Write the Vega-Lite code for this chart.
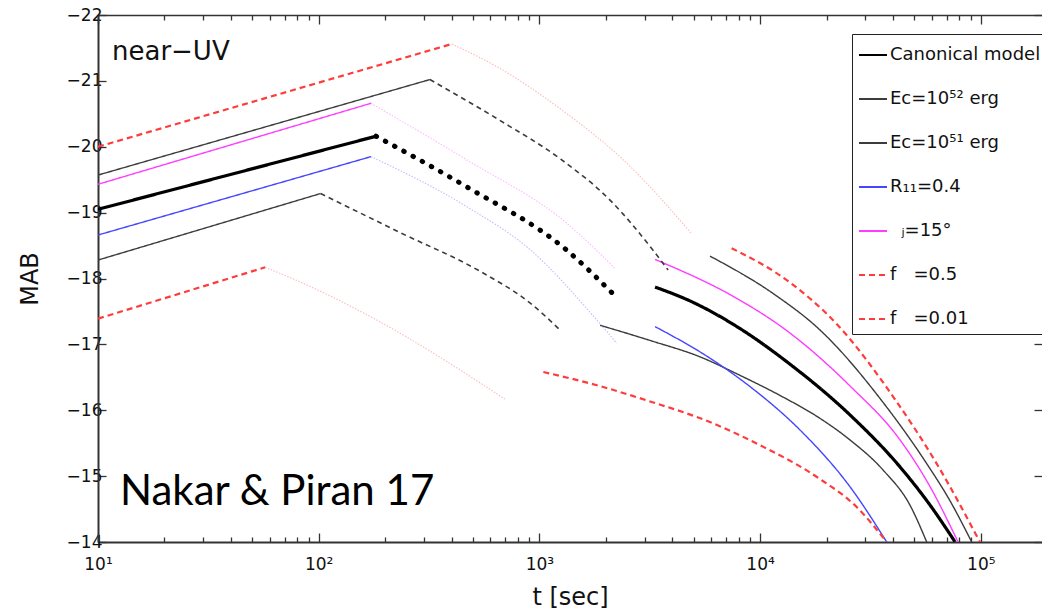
{
  "$schema": "https://vega.github.io/schema/vega-lite/v6.json",
  "width": 944,
  "height": 527,
  "autosize": {"type": "none"},
  "padding": {"left": 98, "top": 15, "right": 0, "bottom": 71},
  "background": "white",
  "data": {
    "values": [
      {"model": "Canonical model", "part": "rise", "t": 10, "M": -19.05},
      {"model": "Canonical model", "part": "rise", "t": 182, "M": -20.16},
      {"model": "Canonical model", "part": "mid", "t": 182, "M": -20.16},
      {"model": "Canonical model", "part": "mid", "t": 469, "M": -19.39},
      {"model": "Canonical model", "part": "mid", "t": 1330, "M": -18.43},
      {"model": "Canonical model", "part": "mid", "t": 2138, "M": -17.78},
      {"model": "Canonical model", "part": "late", "t": 3342, "M": -17.87},
      {"model": "Canonical model", "part": "late", "t": 4810, "M": -17.66},
      {"model": "Canonical model", "part": "late", "t": 8110, "M": -17.24},
      {"model": "Canonical model", "part": "late", "t": 13650, "M": -16.70},
      {"model": "Canonical model", "part": "late", "t": 25530, "M": -15.93},
      {"model": "Canonical model", "part": "late", "t": 43050, "M": -15.14},
      {"model": "Canonical model", "part": "late", "t": 58900, "M": -14.56},
      {"model": "Canonical model", "part": "late", "t": 76500, "M": -14.0},

      {"model": "Ec=10⁵² erg", "part": "rise", "t": 10, "M": -19.57},
      {"model": "Ec=10⁵² erg", "part": "rise", "t": 319, "M": -21.02},
      {"model": "Ec=10⁵² erg", "part": "mid", "t": 319, "M": -21.02},
      {"model": "Ec=10⁵² erg", "part": "mid", "t": 662, "M": -20.40},
      {"model": "Ec=10⁵² erg", "part": "mid", "t": 1239, "M": -19.82},
      {"model": "Ec=10⁵² erg", "part": "mid", "t": 2089, "M": -19.19},
      {"model": "Ec=10⁵² erg", "part": "mid", "t": 3273, "M": -18.43},
      {"model": "Ec=10⁵² erg", "part": "mid", "t": 3828, "M": -18.13},
      {"model": "Ec=10⁵² erg", "part": "late", "t": 5930, "M": -18.34},
      {"model": "Ec=10⁵² erg", "part": "late", "t": 11480, "M": -17.77},
      {"model": "Ec=10⁵² erg", "part": "late", "t": 18660, "M": -17.22},
      {"model": "Ec=10⁵² erg", "part": "late", "t": 36060, "M": -16.12},
      {"model": "Ec=10⁵² erg", "part": "late", "t": 56880, "M": -15.19},
      {"model": "Ec=10⁵² erg", "part": "late", "t": 72400, "M": -14.63},
      {"model": "Ec=10⁵² erg", "part": "late", "t": 90950, "M": -14.0},

      {"model": "Ec=10⁵¹ erg", "part": "rise", "t": 10, "M": -18.28},
      {"model": "Ec=10⁵¹ erg", "part": "rise", "t": 102, "M": -19.29},
      {"model": "Ec=10⁵¹ erg", "part": "mid", "t": 102, "M": -19.29},
      {"model": "Ec=10⁵¹ erg", "part": "mid", "t": 233, "M": -18.70},
      {"model": "Ec=10⁵¹ erg", "part": "mid", "t": 538, "M": -18.11},
      {"model": "Ec=10⁵¹ erg", "part": "mid", "t": 906, "M": -17.63},
      {"model": "Ec=10⁵¹ erg", "part": "mid", "t": 1239, "M": -17.22},
      {"model": "Ec=10⁵¹ erg", "part": "late", "t": 1884, "M": -17.29},
      {"model": "Ec=10⁵¹ erg", "part": "late", "t": 3170, "M": -17.06},
      {"model": "Ec=10⁵¹ erg", "part": "late", "t": 5350, "M": -16.81},
      {"model": "Ec=10⁵¹ erg", "part": "late", "t": 8110, "M": -16.53},
      {"model": "Ec=10⁵¹ erg", "part": "late", "t": 12710, "M": -16.20},
      {"model": "Ec=10⁵¹ erg", "part": "late", "t": 18030, "M": -15.91},
      {"model": "Ec=10⁵¹ erg", "part": "late", "t": 25530, "M": -15.55},
      {"model": "Ec=10⁵¹ erg", "part": "late", "t": 36140, "M": -15.09},
      {"model": "Ec=10⁵¹ erg", "part": "late", "t": 47750, "M": -14.56},
      {"model": "Ec=10⁵¹ erg", "part": "late", "t": 56880, "M": -14.0},

      {"model": "R₁₁=0.4", "part": "rise", "t": 10, "M": -18.66},
      {"model": "R₁₁=0.4", "part": "rise", "t": 172.6, "M": -19.85},
      {"model": "R₁₁=0.4", "part": "mid", "t": 172.6, "M": -19.85},
      {"model": "R₁₁=0.4", "part": "mid", "t": 469, "M": -19.09},
      {"model": "R₁₁=0.4", "part": "mid", "t": 906, "M": -18.44},
      {"model": "R₁₁=0.4", "part": "mid", "t": 1820, "M": -17.37},
      {"model": "R₁₁=0.4", "part": "mid", "t": 2239, "M": -17.02},
      {"model": "R₁₁=0.4", "part": "late", "t": 3342, "M": -17.27},
      {"model": "R₁₁=0.4", "part": "late", "t": 5930, "M": -16.79},
      {"model": "R₁₁=0.4", "part": "late", "t": 8995, "M": -16.36},
      {"model": "R₁₁=0.4", "part": "late", "t": 15170, "M": -15.70},
      {"model": "R₁₁=0.4", "part": "late", "t": 25530, "M": -14.84},
      {"model": "R₁₁=0.4", "part": "late", "t": 37480, "M": -14.0},

      {"model": "\u200b\u00a0\u00a0ⱼ=15°", "part": "rise", "t": 10, "M": -19.43},
      {"model": "\u200b\u00a0\u00a0ⱼ=15°", "part": "rise", "t": 172.6, "M": -20.66},
      {"model": "\u200b\u00a0\u00a0ⱼ=15°", "part": "mid", "t": 172.6, "M": -20.66},
      {"model": "\u200b\u00a0\u00a0ⱼ=15°", "part": "mid", "t": 469, "M": -19.80},
      {"model": "\u200b\u00a0\u00a0ⱼ=15°", "part": "mid", "t": 1330, "M": -18.84},
      {"model": "\u200b\u00a0\u00a0ⱼ=15°", "part": "mid", "t": 2204, "M": -18.15},
      {"model": "\u200b\u00a0\u00a0ⱼ=15°", "part": "late", "t": 3342, "M": -18.29},
      {"model": "\u200b\u00a0\u00a0ⱼ=15°", "part": "late", "t": 8110, "M": -17.67},
      {"model": "\u200b\u00a0\u00a0ⱼ=15°", "part": "late", "t": 12710, "M": -17.25},
      {"model": "\u200b\u00a0\u00a0ⱼ=15°", "part": "late", "t": 25530, "M": -16.37},
      {"model": "\u200b\u00a0\u00a0ⱼ=15°", "part": "late", "t": 43050, "M": -15.55},
      {"model": "\u200b\u00a0\u00a0ⱼ=15°", "part": "late", "t": 58900, "M": -14.84},
      {"model": "\u200b\u00a0\u00a0ⱼ=15°", "part": "late", "t": 78900, "M": -14.0},

      {"model": "f\u00a0\u00a0\u00a0=0.5", "part": "rise", "t": 10, "M": -20.0},
      {"model": "f\u00a0\u00a0\u00a0=0.5", "part": "rise", "t": 401, "M": -21.56},
      {"model": "f\u00a0\u00a0\u00a0=0.5", "part": "mid", "t": 401, "M": -21.56},
      {"model": "f\u00a0\u00a0\u00a0=0.5", "part": "mid", "t": 662, "M": -21.19},
      {"model": "f\u00a0\u00a0\u00a0=0.5", "part": "mid", "t": 1239, "M": -20.58},
      {"model": "f\u00a0\u00a0\u00a0=0.5", "part": "mid", "t": 2490, "M": -19.75},
      {"model": "f\u00a0\u00a0\u00a0=0.5", "part": "mid", "t": 4898, "M": -18.68},
      {"model": "f\u00a0\u00a0\u00a0=0.5", "part": "late", "t": 7430, "M": -18.46},
      {"model": "f\u00a0\u00a0\u00a0=0.5", "part": "late", "t": 13650, "M": -17.94},
      {"model": "f\u00a0\u00a0\u00a0=0.5", "part": "late", "t": 22230, "M": -17.31},
      {"model": "f\u00a0\u00a0\u00a0=0.5", "part": "late", "t": 40180, "M": -16.20},
      {"model": "f\u00a0\u00a0\u00a0=0.5", "part": "late", "t": 63100, "M": -15.19},
      {"model": "f\u00a0\u00a0\u00a0=0.5", "part": "late", "t": 99100, "M": -14.0},

      {"model": "f\u00a0\u00a0\u00a0=0.01", "part": "rise", "t": 10, "M": -17.39},
      {"model": "f\u00a0\u00a0\u00a0=0.01", "part": "rise", "t": 57.2, "M": -18.17},
      {"model": "f\u00a0\u00a0\u00a0=0.01", "part": "mid", "t": 57.2, "M": -18.17},
      {"model": "f\u00a0\u00a0\u00a0=0.01", "part": "mid", "t": 82.2, "M": -17.95},
      {"model": "f\u00a0\u00a0\u00a0=0.01", "part": "mid", "t": 183, "M": -17.37},
      {"model": "f\u00a0\u00a0\u00a0=0.01", "part": "mid", "t": 698, "M": -16.17},
      {"model": "f\u00a0\u00a0\u00a0=0.01", "part": "late", "t": 1042, "M": -16.58},
      {"model": "f\u00a0\u00a0\u00a0=0.01", "part": "late", "t": 1820, "M": -16.38},
      {"model": "f\u00a0\u00a0\u00a0=0.01", "part": "late", "t": 3063, "M": -16.15},
      {"model": "f\u00a0\u00a0\u00a0=0.01", "part": "late", "t": 6139, "M": -15.80},
      {"model": "f\u00a0\u00a0\u00a0=0.01", "part": "late", "t": 9990, "M": -15.47},
      {"model": "f\u00a0\u00a0\u00a0=0.01", "part": "late", "t": 18030, "M": -14.99},
      {"model": "f\u00a0\u00a0\u00a0=0.01", "part": "late", "t": 27410, "M": -14.53},
      {"model": "f\u00a0\u00a0\u00a0=0.01", "part": "late", "t": 37480, "M": -14.0}
    ]
  },
  "layer": [
    {
      "transform": [{"filter": "datum.part !== 'mid'"}],
      "mark": {"type": "line", "interpolate": "monotone", "clip": true},
      "encoding": {
        "x": {
          "field": "t", "type": "quantitative",
          "scale": {"type": "log", "domain": [10, 189400], "nice": false},
          "axis": {
            "orient": "bottom",
            "values": [10, 20, 30, 40, 50, 60, 70, 80, 90, 100, 200, 300, 400, 500, 600, 700, 800, 900, 1000, 2000, 3000, 4000, 5000, 6000, 7000, 8000, 9000, 10000, 20000, 30000, 40000, 50000, 60000, 70000, 80000, 90000, 100000],
            "labelExpr": "datum.value === 10 ? '10¹' : datum.value === 100 ? '10²' : datum.value === 1000 ? '10³' : datum.value === 10000 ? '10⁴' : datum.value === 100000 ? '10⁵' : ''",
            "tickSize": {"condition": {"test": "datum.value === 10 || datum.value === 100 || datum.value === 1000 || datum.value === 10000 || datum.value === 100000", "value": -9}, "value": -5},
            "labelPadding": 23,
            "labelFlush": false,
            "labelOverlap": false,
            "title": "t [sec]",
            "titleFontSize": 24,
            "titlePadding": 9
          }
        },
        "y": {
          "field": "M", "type": "quantitative",
          "scale": {"domain": [-22, -14], "reverse": true, "nice": false, "zero": false},
          "axis": {
            "orient": "left",
            "values": [-22, -21, -20, -19, -18, -17, -16, -15, -14],
            "tickSize": -8,
            "labelPadding": 4,
            "title": "MAB",
            "titleFontSize": 24,
            "titlePadding": 24
          }
        },
        "color": {
          "field": "model", "type": "nominal",
          "scale": {
            "domain": ["Canonical model", "Ec=10⁵² erg", "Ec=10⁵¹ erg", "R₁₁=0.4", "\u200b\u00a0\u00a0ⱼ=15°", "f\u00a0\u00a0\u00a0=0.5", "f\u00a0\u00a0\u00a0=0.01"],
            "range": ["#000000", "#3c3c3c", "#3c3c3c", "#4646ff", "#ff3cff", "#ff3c3c", "#ff3c3c"]
          },
          "legend": {
            "title": null,
            "orient": "none",
            "legendX": 754,
            "legendY": 19,
            "strokeColor": "#222",
            "fillColor": "white",
            "padding": 6,
            "rowPadding": 20,
            "symbolType": "stroke",
            "symbolSize": 784,
            "symbolStrokeWidth": 1.8,
            "labelFont": "DejaVu Sans",
            "labelFontSize": 18,
            "labelColor": "#111",
            "labelOffset": 2,
            "labelLimit": 400
          }
        },
        "strokeDash": {
          "field": "model", "type": "nominal",
          "scale": {
            "domain": ["Canonical model", "Ec=10⁵² erg", "Ec=10⁵¹ erg", "R₁₁=0.4", "\u200b\u00a0\u00a0ⱼ=15°", "f\u00a0\u00a0\u00a0=0.5", "f\u00a0\u00a0\u00a0=0.01"],
            "range": [[1, 0], [1, 0], [1, 0], [1, 0], [1, 0], [6, 4], [6, 4]]
          },
          "legend": {"title": null}
        },
        "strokeWidth": {
          "condition": [
            {"test": "datum.model === 'Canonical model'", "value": 3.2},
            {"test": "indexof(datum.model, 'f') === 0", "value": 2.2}
          ],
          "value": 1.4
        },
        "detail": {"field": "part"}
      }
    },
    {
      "transform": [{"filter": "datum.part === 'mid' && datum.model !== 'Canonical model' && indexof(datum.model, 'erg') < 0"}],
      "mark": {"type": "line", "interpolate": "monotone", "strokeDash": [1.5, 1.5], "strokeWidth": 1.1, "opacity": 0.35, "clip": true},
      "encoding": {
        "x": {"field": "t", "type": "quantitative", "axis": null},
        "y": {"field": "M", "type": "quantitative", "axis": null},
        "color": {"field": "model", "type": "nominal", "legend": null},
        "detail": {"field": "part"}
      }
    },
    {
      "transform": [{"filter": "datum.part === 'mid' && indexof(datum.model, 'erg') >= 0"}],
      "mark": {"type": "line", "interpolate": "monotone", "strokeDash": [5, 4], "strokeWidth": 1.6, "clip": true},
      "encoding": {
        "x": {"field": "t", "type": "quantitative", "axis": null},
        "y": {"field": "M", "type": "quantitative", "axis": null},
        "color": {"field": "model", "type": "nominal", "legend": null},
        "detail": {"field": "part"}
      }
    },
    {
      "transform": [{"filter": "datum.part === 'mid' && datum.model === 'Canonical model'"}],
      "mark": {"type": "line", "interpolate": "monotone", "strokeDash": [0.5, 10], "strokeCap": "round", "strokeWidth": 5, "clip": true},
      "encoding": {
        "x": {"field": "t", "type": "quantitative", "axis": null},
        "y": {"field": "M", "type": "quantitative", "axis": null},
        "color": {"field": "model", "type": "nominal", "legend": null},
        "detail": {"field": "part"}
      }
    },
    {
      "data": {"values": [{}]},
      "mark": {"type": "text", "text": "near−UV", "font": "DejaVu Sans", "fontSize": 26, "fontWeight": "normal", "align": "left", "baseline": "alphabetic", "color": "#111"},
      "encoding": {
        "x": {
          "datum": 11.57, "type": "quantitative",
          "axis": {
            "orient": "top",
            "values": [10, 20, 30, 40, 50, 60, 70, 80, 90, 100, 200, 300, 400, 500, 600, 700, 800, 900, 1000, 2000, 3000, 4000, 5000, 6000, 7000, 8000, 9000, 10000, 20000, 30000, 40000, 50000, 60000, 70000, 80000, 90000, 100000],
            "labels": false,
            "tickSize": {"condition": {"test": "datum.value === 10 || datum.value === 100 || datum.value === 1000 || datum.value === 10000 || datum.value === 100000", "value": -9}, "value": -5},
            "domainWidth": 1.5,
            "title": null
          }
        },
        "y": {
          "datum": -21.31, "type": "quantitative",
          "axis": {
            "orient": "right",
            "values": [-22, -21, -20, -19, -18, -17, -16, -15, -14],
            "labels": false,
            "domain": false,
            "tickSize": -8,
            "title": null
          }
        }
      }
    },
    {
      "data": {"values": [{}]},
      "mark": {"type": "text", "text": "Nakar & Piran 17", "font": "Lato", "fontSize": 42, "fontWeight": "normal", "align": "left", "baseline": "alphabetic", "color": "#000"},
      "encoding": {
        "x": {"datum": 12.58, "type": "quantitative", "axis": null},
        "y": {"datum": -14.56, "type": "quantitative", "axis": null}
      }
    }
  ],
  "resolve": {"axis": {"x": "independent", "y": "independent"}},
  "config": {
    "view": {"stroke": null},
    "font": "DejaVu Sans",
    "axis": {
      "grid": false,
      "domainColor": "#333",
      "domainWidth": 2,
      "tickColor": "#333",
      "tickWidth": 1.3,
      "labelFont": "DejaVu Sans",
      "labelFontSize": 17,
      "labelColor": "#111",
      "titleFont": "DejaVu Sans",
      "titleFontWeight": "normal",
      "titleColor": "#111"
    }
  }
}
